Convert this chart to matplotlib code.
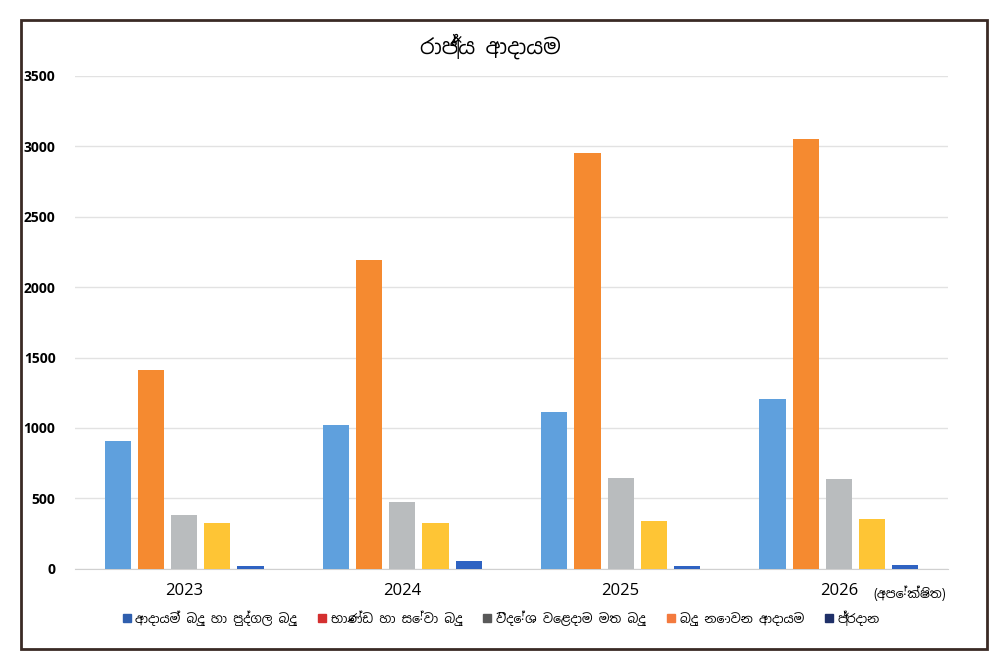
import matplotlib
matplotlib.use("Agg")
import matplotlib.pyplot as plt
from matplotlib.patches import Rectangle
import numpy as np

years = ["2023", "2024", "2025", "2026"]
income_tax = [910, 1020, 1112, 1205]
non_tax = [1415, 2195, 2950, 3050]
trade_tax = [385, 472, 645, 636]
goods_services = [322, 322, 342, 356]
grants = [22, 52, 22, 28]

title = "රාජ්‍ය ආදායම"
projected = "(අපේක්ෂිත)"
legend_labels = ["ආදායම් බදු හා පුද්ගල බදු", "භාණ්ඩ හා සේවා බදු",
                 "විදේශ වෙළදාම මත බදු", "බදු නොවන ආදායම", "ප්‍රදාන"]

plt.rcParams["font.family"] = ["Noto Sans Sinhala", "DejaVu Sans"]

fig = plt.figure(figsize=(10, 6.66), dpi=100)
# dark frame round the whole chart
fig.patches.append(Rectangle((0.021, 0.025), 0.966, 0.945, transform=fig.transFigure,
                             fill=False, edgecolor="#3a2a25", linewidth=2))
ax = fig.add_axes([0.075, 0.146, 0.873, 0.74])

x = np.arange(len(years))
w = 0.12
step = 0.152
series = [income_tax, non_tax, trade_tax, goods_services, grants]
bar_colors = ["#5fa0dd", "#f58a30", "#b9bcbe", "#fec535", "#2f63c2"]
for i, (vals, c) in enumerate(zip(series, bar_colors)):
    ax.bar(x + (i - 2) * step, vals, width=w, color=c, zorder=3)

ax.set_xlim(-0.5, 3.5)
ax.set_ylim(0, 3500)
ax.set_yticks(range(0, 3501, 500))
ax.grid(axis="y", color="#e2e2e2", linewidth=1, zorder=0)
for s in ["top", "right", "left"]:
    ax.spines[s].set_visible(False)
ax.spines["bottom"].set_color("#d0d0d0")
ax.tick_params(length=0)
ax.tick_params(axis="y", pad=14)
ax.tick_params(axis="x", pad=10)
ax.set_xticks(x)
ax.set_xticklabels(years, family="Open Sans", fontsize=12)
for lab in ax.get_yticklabels():
    lab.set_family("Open Sans")
    lab.set_fontweight("bold")
    lab.set_fontsize(10)
ax.text(3.16, -0.05, projected, transform=ax.get_xaxis_transform(),
        fontsize=9, fontweight="bold", va="center", ha="left")

fig.text(0.49, 0.93, title, ha="center", va="center", fontsize=15, fontweight="bold")

legend_colors = ["#2f5fae", "#d42f2f", "#595959", "#f37a3e", "#1f3068"]
handles = [plt.Line2D([], [], marker="s", linestyle="none", markersize=6, color=c)
           for c in legend_colors]
fig.legend(handles, legend_labels, loc="center", bbox_to_anchor=(0.5, 0.072),
           ncol=5, frameon=False, fontsize=9, handletextpad=0.2,
           columnspacing=1.5, handlelength=1.0)

fig.savefig("out.png", dpi=100)
